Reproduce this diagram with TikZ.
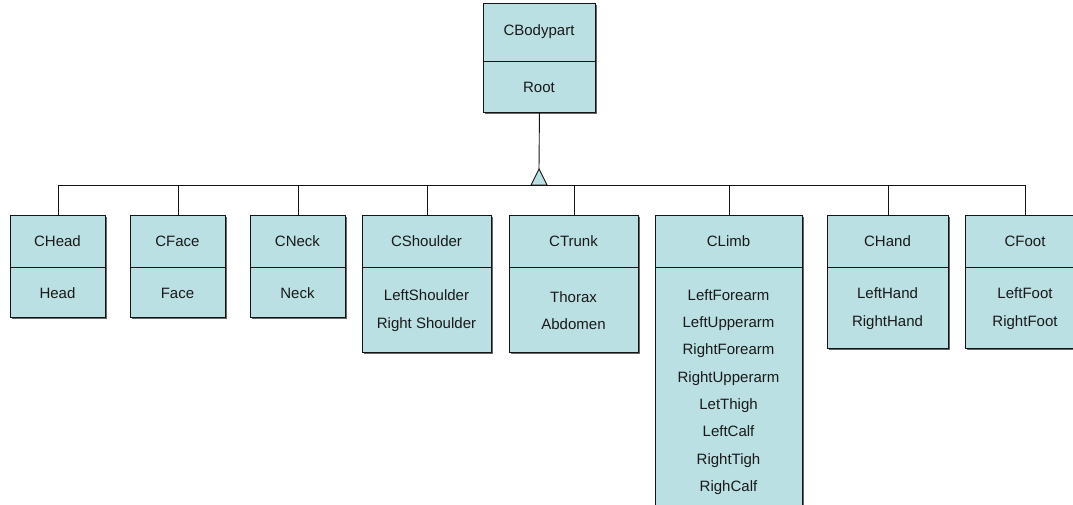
\documentclass[tikz,border=0pt]{standalone}
\usepackage{fontspec}
\setmainfont{Liberation Sans}
\usetikzlibrary{shadows}
\definecolor{classfill}{RGB}{187,224,227}
\definecolor{classline}{RGB}{20,20,20}
\tikzset{
  classbox/.style={draw=classline, line width=0.9pt, fill=classfill, rectangle, inner sep=0pt,
    anchor=north west,
    drop shadow={shadow xshift=1.6pt, shadow yshift=-1.6pt, fill=black!60, opacity=1}},
  divider/.style={draw=classline, line width=0.9pt},
  label/.style={font=\fontsize{15}{27.3}\selectfont, align=center, inner sep=0pt, text=black!90},
  wire/.style={draw=classline, line width=0.9pt},
}
% \classbox{name}{left}{right}{top}{bottom}{divider}{header}{body}
\newcommand{\classbox}[8]{%
  \node[classbox, minimum width=#3-#2, minimum height=#5-#4] (#1) at (#2,#4) {};
  \draw[divider] (#2,#6) -- (#3,#6);
  \node[label] (#1-hd) at ({(#2+#3)/2},{(#4+#6)/2}) {#7};
  \node[label] (#1-bd) at ({(#2+#3)/2},{(#6+#5)/2+1}) {#8};
}
\begin{document}
\begin{tikzpicture}[x=1pt, y=-1pt]
  \useasboundingbox (0,0) rectangle (1073,505);
  \begin{scope}
  \clip (0,0) rectangle (1073,505);

  % root class
  \classbox{body}{483}{595}{3}{112}{61}{CBodypart}{Root}

  % derived classes
  \classbox{head}{10}{105}{215}{317}{267}{CHead}{Head}
  \classbox{face}{130}{225}{215}{317}{267}{CFace}{Face}
  \classbox{neck}{250}{345}{215}{317}{267}{CNeck}{Neck}
  \classbox{shoulder}{362}{491}{215}{352}{267}{CShoulder}{LeftShoulder\\Right Shoulder}
  \classbox{trunk}{509}{638}{215}{352}{267}{CTrunk}{Thorax\\Abdomen}
  \classbox{limb}{655}{802}{215}{515}{267}{CLimb}{LeftForearm\\LeftUpperarm\\RightForearm\\RightUpperarm\\LetThigh\\LeftCalf\\RightTigh\\RighCalf}
  \classbox{hand}{827}{948}{215}{348}{267}{CHand}{LeftHand\\RightHand}
  \classbox{foot}{965}{1085}{215}{348}{267}{CFoot}{LeftFoot\\RightFoot}

  % inheritance bus
  \coordinate (bus) at (539,185);
  \coordinate (apex) at (539,169);
  \coordinate (triL) at (531,185);
  \coordinate (triR) at (547,185);

  \draw[wire] ([xshift=0.4pt]head.north |- bus) -- ([xshift=0.4pt]foot.north |- bus);
  \foreach \c in {head,face,neck,shoulder,trunk,limb,hand,foot}{
    \draw[wire] ([xshift=0.4pt]\c.north |- bus) -- ([xshift=0.4pt]\c.north);
  }
  \draw[wire] (body.south) -- (apex);
  \draw[wire, fill=classfill] (triL) -- (apex) -- (triR) -- cycle;
  \end{scope}
\end{tikzpicture}
\end{document}
